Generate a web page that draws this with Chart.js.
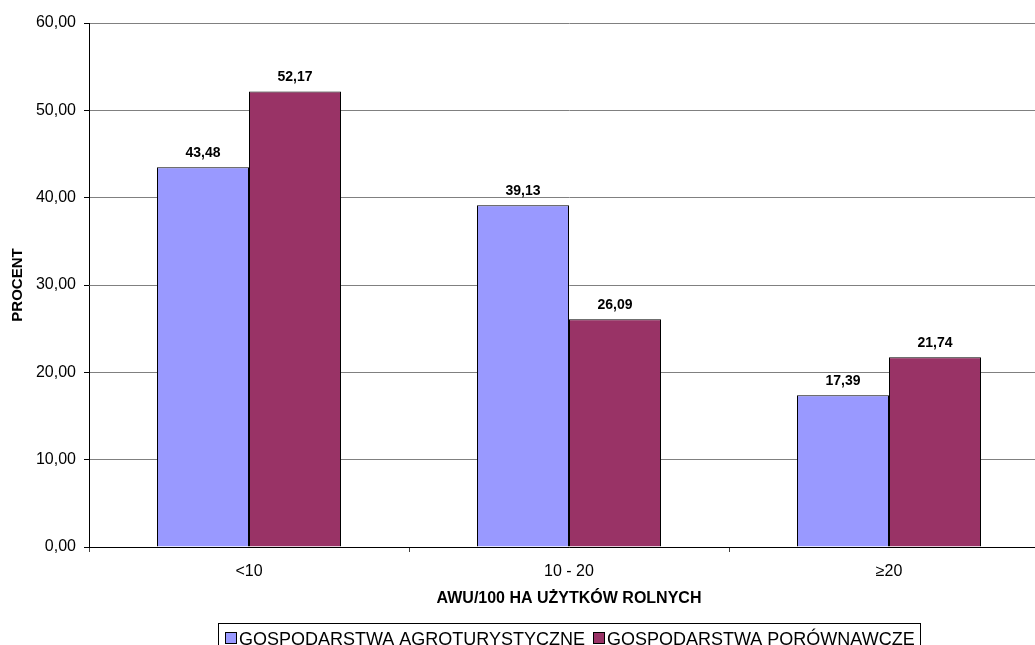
<!DOCTYPE html>
<html lang="pl">
<head>
    <meta charset="UTF-8" />
    <title>AWU/100 ha UR</title>
    <script src="https://cdn.jsdelivr.net/npm/chart.js"></script>
    <style>
        html, body { margin: 0; padding: 0; background: #fff; overflow: hidden; }
        #wrap { position: relative; width: 1060px; height: 645px; }
    </style>
</head>
<body>
    <div id="wrap"><canvas id="myChart" width="1060" height="645"></canvas></div>
</body>
</html>
<script>
    // dane
    var kategorie = ["<10", "10 - 20", "\u226520"];
    var agroturystyczne = [43.48, 39.13, 17.39];
    var porownawcze = [52.17, 26.09, 21.74];
    var nazwySerii = ["GOSPODARSTWA AGROTURYSTYCZNE", "GOSPODARSTWA PORÓWNAWCZE"];
    var podzialkaY = [0, 10, 20, 30, 40, 50, 60];
    var tytulX = "AWU/100 HA UŻYTKÓW ROLNYCH";
    var tytulY = "PROCENT";

    var czcionka = "'Liberation Sans', Arial, sans-serif";

    function formatuj(v) {
        return v.toFixed(2).replace(".", ",");
    }

    // etykiety nad słupkami, tytuły osi i legenda
    var dodatki = {
        id: "dodatki",
        afterDatasetsDraw: function (chart) {
            var ctx = chart.ctx;
            ctx.save();
            ctx.font = "bold 14px " + czcionka;
            ctx.fillStyle = "#000";
            ctx.textAlign = "center";
            ctx.textBaseline = "alphabetic";
            chart.data.datasets.forEach(function (ds, i) {
                chart.getDatasetMeta(i).data.forEach(function (bar, j) {
                    ctx.fillText(formatuj(ds.data[j]), bar.x, bar.y - 10);
                });
            });
            ctx.restore();
        },
        afterDraw: function (chart) {
            var ctx = chart.ctx;
            var area = chart.chartArea;
            var srodek = (area.left + area.right) / 2;
            ctx.save();
            ctx.fillStyle = "#000";

            ctx.font = "bold 16px " + czcionka;
            ctx.textAlign = "center";
            ctx.textBaseline = "middle";
            ctx.fillText(tytulX, srodek, 599);

            ctx.save();
            ctx.translate(18, (area.top + area.bottom) / 2);
            ctx.rotate(-Math.PI / 2);
            ctx.font = "bold 15px " + czcionka;
            ctx.fillText(tytulY, 0, 0);
            ctx.restore();

            // legenda
            ctx.font = "18px " + czcionka;
            ctx.textAlign = "left";
            ctx.textBaseline = "alphabetic";
            var x = 222;
            var elementy = [];
            chart.data.datasets.forEach(function (ds) {
                var w = ctx.measureText(ds.label).width;
                elementy.push({ x: x, ds: ds, w: w });
                x += 14 + w + 8;
            });
            var koniec = x - 8 + 5;
            var szer = koniec - 215;
            var start = srodek - szer / 2;
            var dx = start - 215;
            ctx.strokeStyle = "#000";
            ctx.lineWidth = 1;
            ctx.strokeRect(Math.round(start) + 0.5, 623.5, Math.round(szer), 30);
            elementy.forEach(function (e) {
                var sx = Math.round(e.x + dx);
                ctx.fillStyle = e.ds.backgroundColor;
                ctx.fillRect(sx, 632, 12, 12);
                ctx.strokeRect(sx + 0.5, 632.5, 11, 11);
                ctx.fillStyle = "#000";
                ctx.fillText(e.ds.label, sx + 14, 645);
            });
            ctx.restore();
        }
    };

    const ctx = document.getElementById("myChart");
    new Chart(ctx, {
        type: "bar",
        data: {
            labels: kategorie,
            datasets: [
                {
                    label: nazwySerii[0],
                    data: agroturystyczne,
                    backgroundColor: "#9999FF",
                    borderColor: "#000000",
                    borderWidth: 1,
                    categoryPercentage: 0.575,
                    barPercentage: 1,
                },
                {
                    label: nazwySerii[1],
                    data: porownawcze,
                    backgroundColor: "#993366",
                    borderColor: "#000000",
                    borderWidth: 1,
                    categoryPercentage: 0.575,
                    barPercentage: 1,
                },
            ],
        },
        options: {
            responsive: false,
            animation: false,
            devicePixelRatio: 1,
            layout: { padding: { top: 23, right: 11, bottom: 0, left: 0 } },
            plugins: {
                legend: { display: false },
                tooltip: { enabled: false },
            },
            scales: {
                x: {
                    afterFit: function (scale) { scale.height = 98; },
                    grid: {
                        display: true,
                        drawOnChartArea: false,
                        offset: true,
                        tickLength: 5,
                        tickColor: "#404040",
                    },
                    border: { color: "#000000", width: 1 },
                    ticks: {
                        color: "#000",
                        font: { family: czcionka, size: 16 },
                        padding: 10,
                        maxRotation: 0,
                    },
                },
                y: {
                    min: 0,
                    max: 60,
                    afterFit: function (scale) { scale.width = 89; },
                    afterBuildTicks: function (scale) {
                        scale.ticks = podzialkaY.map(function (v) { return { value: v }; });
                    },
                    grid: {
                        color: "#808080",
                        lineWidth: 1,
                        tickLength: 5,
                        tickColor: "#000000",
                    },
                    border: { color: "#000000", width: 1 },
                    ticks: {
                        color: "#000",
                        font: { family: czcionka, size: 16 },
                        padding: 8,
                        callback: function (v) { return formatuj(v); },
                    },
                },
            },
        },
        plugins: [dodatki],
    });
</script>
